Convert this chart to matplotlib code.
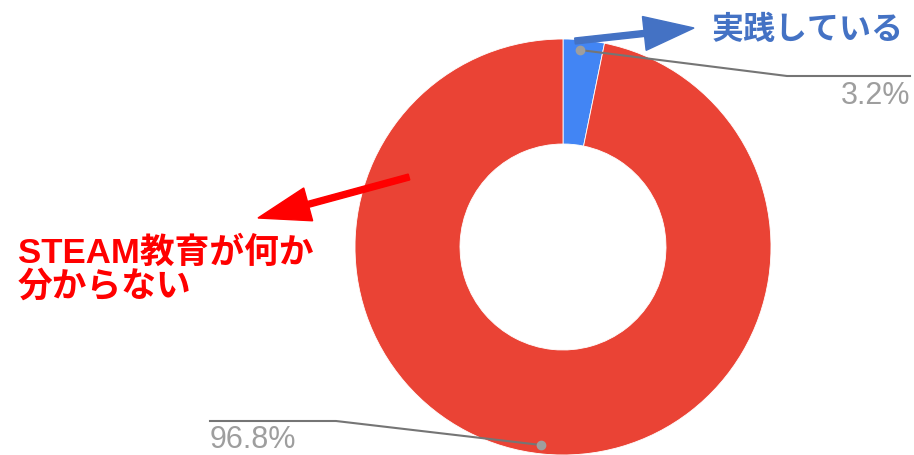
import matplotlib
matplotlib.use('Agg')
import matplotlib.pyplot as plt
from matplotlib.patches import FancyArrow

# data
labels = ['実践している', 'STEAM教育が何か\n分からない']
values = [3.2, 96.8]
pct_labels = ['3.2%', '96.8%']
colors = ['#4285f4', '#ea4335']

W, H = 914, 456
fig = plt.figure(figsize=(W / 100, H / 100), dpi=100)
ax = fig.add_axes([0, 0, 1, 1])

def py(y):
    # pixel row -> data y
    return H - y

cx, cy, r = 563, py(248), 208
ax.pie(values, colors=colors, startangle=90, counterclock=False,
       center=(cx, cy), radius=r, frame=True,
       wedgeprops=dict(width=105, edgecolor='white', linewidth=0.6))
ax.set_xlim(0, W)
ax.set_ylim(0, H)
ax.axis('off')

gray_line = '#757575'
gray_dot = '#9e9e9e'
gray_txt = '#9e9e9e'
latin = ['Liberation Sans', 'Noto Sans CJK JP']

# leader lines + percent labels
ax.plot([580, 787, 910], [py(51), py(77), py(77)], color=gray_line, lw=1.5, zorder=3)
ax.plot([580], [py(51)], 'o', color=gray_dot, ms=6, zorder=4)
ax.text(910, py(96), pct_labels[0], ha='right', va='center', color=gray_txt,
        fontsize=22, family=latin)

ax.plot([541, 336, 210], [py(446), py(422), py(422)], color=gray_line, lw=1.5, zorder=3)
ax.plot([541], [py(446)], 'o', color=gray_dot, ms=6, zorder=4)
ax.text(210, py(440), pct_labels[1], ha='left', va='center', color=gray_txt,
        fontsize=22, family=latin)

# annotation arrows
ax.add_patch(FancyArrow(575, py(42), 694 - 575, py(29) - py(42), width=6,
                        head_width=34, head_length=50, length_includes_head=True,
                        color='#4472c4', zorder=5))
ax.add_patch(FancyArrow(409, py(178), 258 - 409, py(219) - py(178), width=6,
                        head_width=34, head_length=52, length_includes_head=True,
                        color='#ff0000', zorder=5))

ax.text(712, py(31), labels[0], ha='left', va='center', color='#4472c4',
        fontsize=23, fontweight='bold', family=latin)
ax.text(18, py(270), labels[1], ha='left', va='center', color='#ff0000',
        fontsize=25, fontweight='bold', family=latin, linespacing=1.05)

fig.savefig('out.png', dpi=100)
